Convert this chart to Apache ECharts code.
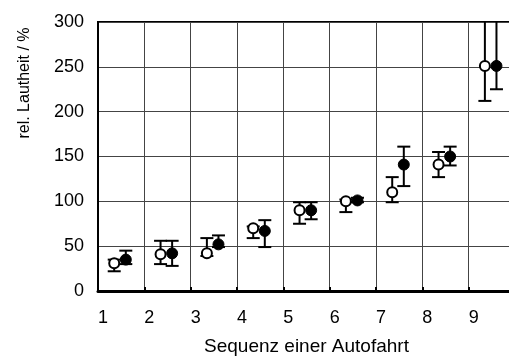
<!DOCTYPE html>
<html>
<head>
<meta charset="utf-8">
<script src="https://cdn.jsdelivr.net/npm/echarts@6/dist/echarts.min.js"></script>
<style>html,body{margin:0;padding:0;background:#fff;}#c{width:509px;height:358px;}</style>
</head>
<body>
<div id="c"></div>
<script>
var categories = [1, 2, 3, 4, 5, 6, 7, 8, 9];
var xTickLabels = ['1', '2', '3', '4', '5', '6', '7', '8', '9'];
var yTickValues = [0, 50, 100, 150, 200, 250, 300];

var openMean  = [31, 41, 42, 70, 90, 100, 110, 141, 251];
var openLow   = [22, 30, 39, 59, 75, 88, 99, 127, 212];
var openHigh  = [35, 56, 59, 72, 99, 102, 127, 155, 310];

var filledMean = [35, 42, 52, 67, 90, 101, 141, 150, 251];
var filledLow  = [30, 28, 49, 49, 80, 99, 117, 140, 225];
var filledHigh = [45, 56, 62, 79, 99, 104, 161, 161, 310];

var OPEN_OFF = 0.35, FILLED_OFF = 0.6;
var FONT = 'Liberation Sans, Arial, sans-serif';

function pts(mean, off) {
  return categories.map(function (c, i) { return [c + off, mean[i]]; });
}
function bars(low, high, off) {
  return categories.map(function (c, i) { return [c + off, low[i], high[i]]; });
}
function renderBar(params, api) {
  var x = api.value(0);
  var lo = api.coord([x, api.value(1)]);
  var hi = api.coord([x, api.value(2)]);
  var hw = 6.5;
  var st = { stroke: '#000', lineWidth: 2 };
  return {
    type: 'group',
    children: [
      { type: 'line', shape: { x1: lo[0], y1: lo[1], x2: hi[0], y2: hi[1] }, style: st },
      { type: 'line', shape: { x1: lo[0] - hw, y1: lo[1], x2: lo[0] + hw, y2: lo[1] }, style: st },
      { type: 'line', shape: { x1: hi[0] - hw, y1: hi[1], x2: hi[0] + hw, y2: hi[1] }, style: st }
    ]
  };
}

var chart = echarts.init(document.getElementById('c'), null, { renderer: 'canvas' });
chart.setOption({
  animation: false,
  backgroundColor: '#fff',
  grid: { left: 98, top: 22, bottom: 67, right: -6, containLabel: false, outerBoundsMode: 'none',
          show: true, borderColor: '#000', borderWidth: 2, backgroundColor: 'transparent' },
  xAxis: {
    type: 'value', min: 1, max: 10, interval: 1,
    name: 'Sequenz einer Autofahrt', nameLocation: 'middle', nameGap: 46,
    nameTextStyle: { fontFamily: FONT, fontSize: 19, color: '#000' },
    axisLine: { show: true, lineStyle: { color: '#000', width: 3 } },
    axisTick: { show: true, inside: true, length: 4, lineStyle: { color: '#000', width: 2 } },
    axisLabel: {
      fontFamily: FONT, fontSize: 18, color: '#000', margin: 18, align: 'left',
      formatter: function (v) { var i = categories.indexOf(v); return i >= 0 ? xTickLabels[i] : ''; }
    },
    splitLine: { show: true, lineStyle: { color: '#444', width: 1 } }
  },
  yAxis: {
    type: 'value', min: 0, max: 300, interval: 50,
    axisLine: { show: true, lineStyle: { color: '#000', width: 2 } },
    axisTick: { show: false },
    axisLabel: {
      fontFamily: FONT, fontSize: 18, color: '#000', margin: 14,
      formatter: function (v) { return yTickValues.indexOf(v) >= 0 ? String(v) : ''; }
    },
    splitLine: { show: true, lineStyle: { color: '#444', width: 1 } }
  },
  graphic: [{
    type: 'text', x: 25, y: 83, rotation: Math.PI / 2,
    style: { text: 'rel. Lautheit / %', fontFamily: FONT, fontSize: 16, fill: '#000', textAlign: 'center', textVerticalAlign: 'middle' }
  }],
  series: [
    { type: 'custom', data: bars(openLow, openHigh, OPEN_OFF), renderItem: renderBar, clip: true, z: 2 },
    { type: 'custom', data: bars(filledLow, filledHigh, FILLED_OFF), renderItem: renderBar, clip: true, z: 2 },
    { type: 'scatter', data: pts(openMean, OPEN_OFF), symbol: 'circle', symbolSize: 10, z: 5,
      itemStyle: { color: '#fff', borderColor: '#000', borderWidth: 2, opacity: 1 } },
    { type: 'scatter', data: pts(filledMean, FILLED_OFF), symbol: 'circle', symbolSize: 11, z: 6,
      itemStyle: { color: '#000', borderColor: '#000', borderWidth: 1, opacity: 1 } }
  ]
});
</script>
</body>
</html>
